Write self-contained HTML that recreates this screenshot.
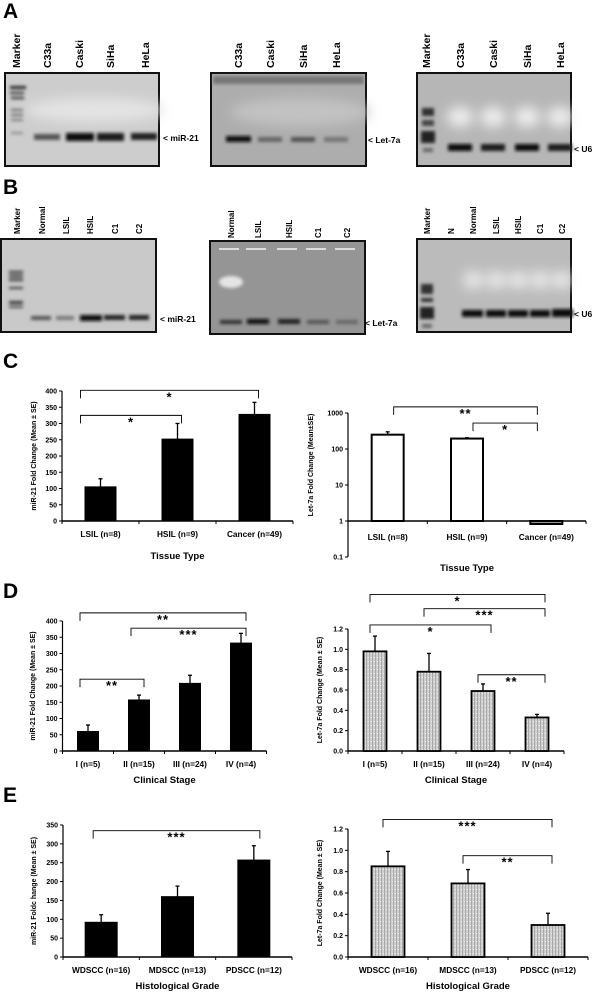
<!DOCTYPE html>
<html><head><meta charset="utf-8"><style>
html,body{margin:0;padding:0;background:#fff;}
svg{display:block;font-family:"Liberation Sans",sans-serif;}
.lbl{font-weight:bold;font-size:10.5px;fill:#000;}
.lblb{font-weight:bold;font-size:8px;fill:#000;}
.tk{font-weight:bold;font-size:7px;fill:#000;}
.cat{font-weight:bold;font-size:8.3px;fill:#000;}
.ttl{font-weight:bold;font-size:9.5px;fill:#000;}
.yt{font-weight:bold;font-size:7px;fill:#000;}
.pn{font-weight:bold;font-size:21px;fill:#000;}
.bl{font-weight:bold;font-size:8.5px;fill:#000;}
</style></head><body>
<svg id="fig" width="601" height="992" viewBox="0 0 601 992" xmlns="http://www.w3.org/2000/svg">
<defs>
<filter id="bl2" x="-50%" y="-200%" width="200%" height="500%"><feGaussianBlur stdDeviation="1.6"/></filter>
<filter id="bl6" x="-50%" y="-100%" width="200%" height="300%"><feGaussianBlur stdDeviation="6"/></filter>
<pattern id="stripe" width="3" height="4" patternUnits="userSpaceOnUse">
<rect width="3" height="4" fill="#cfcfcf"/><rect width="1" height="4" fill="#a8a8a8"/><rect x="2" y="1" width="1" height="1" fill="#f2f2f2"/>
</pattern>
</defs>

<text class="pn" x="3" y="18">A</text>
<text class="pn" x="3" y="194">B</text>
<text class="pn" x="3" y="368">C</text>
<text class="pn" x="3" y="598">D</text>
<text class="pn" x="3" y="802">E</text>

<g>
<rect x="5" y="73" width="154" height="93" fill="#cdcdcd" stroke="#111" stroke-width="2"/>
<ellipse cx="95" cy="110" rx="70" ry="12" fill="#e4e4e4" filter="url(#bl6)"/>
<g filter="url(#bl2)" fill="#222">
<rect x="10" y="86" width="16" height="3"/><rect x="10" y="92" width="14" height="2"/><rect x="11" y="97" width="13" height="2"/>
<rect x="11" y="109" width="12" height="2" fill="#666"/><rect x="11" y="114" width="12" height="2" fill="#666"/><rect x="11" y="119" width="12" height="2" fill="#777"/><rect x="11" y="132" width="12" height="2" fill="#888"/>
<rect x="34" y="134" width="26" height="6" fill="#555"/><rect x="66" y="133" width="28" height="8" fill="#111"/><rect x="97" y="133" width="27" height="8" fill="#1a1a1a"/><rect x="131" y="133" width="26" height="7" fill="#222"/>
</g>
<text class="lbl" transform="translate(20,68) rotate(-90)">Marker</text>
<text class="lbl" transform="translate(51,68) rotate(-90)">C33a</text>
<text class="lbl" transform="translate(83,68) rotate(-90)">Caski</text>
<text class="lbl" transform="translate(114,68) rotate(-90)">SiHa</text>
<text class="lbl" transform="translate(149,68) rotate(-90)">HeLa</text>
<text class="bl" x="163" y="141">&lt; miR-21</text>
</g>

<g>
<rect x="211" y="73" width="155" height="93" fill="#adadad" stroke="#111" stroke-width="2"/>
<rect x="213" y="76" width="151" height="8" fill="#777" filter="url(#bl2)"/>
<ellipse cx="300" cy="112" rx="70" ry="14" fill="#c2c2c2" filter="url(#bl6)"/>
<g filter="url(#bl2)">
<rect x="226" y="136" width="25" height="6" fill="#111"/><rect x="258" y="137" width="24" height="5" fill="#666"/><rect x="291" y="137" width="24" height="5" fill="#555"/><rect x="324" y="137" width="24" height="5" fill="#777"/>
</g>
<text class="lbl" transform="translate(242,68) rotate(-90)">C33a</text>
<text class="lbl" transform="translate(274,68) rotate(-90)">Caski</text>
<text class="lbl" transform="translate(307,68) rotate(-90)">SiHa</text>
<text class="lbl" transform="translate(340,68) rotate(-90)">HeLa</text>
<text class="bl" x="368" y="143">&lt; Let-7a</text>
</g>

<g>
<rect x="417" y="73" width="154" height="93" fill="#b6b6b6" stroke="#111" stroke-width="2"/>
<g filter="url(#bl6)" fill="#efefef">
<ellipse cx="460" cy="117" rx="13" ry="10"/><ellipse cx="493" cy="117" rx="13" ry="10"/><ellipse cx="527" cy="117" rx="13" ry="10"/><ellipse cx="560" cy="117" rx="13" ry="10"/>
</g>
<g filter="url(#bl2)">
<rect x="422" y="108" width="12" height="8" fill="#333"/><rect x="422" y="120" width="12" height="6" fill="#444"/><rect x="421" y="131" width="14" height="12" fill="#222"/><rect x="423" y="148" width="10" height="4" fill="#666"/>
<rect x="448" y="144" width="24" height="7" fill="#111"/><rect x="481" y="144" width="24" height="7" fill="#1a1a1a"/><rect x="515" y="144" width="24" height="7" fill="#111"/><rect x="548" y="144" width="24" height="7" fill="#1a1a1a"/>
</g>
<text class="lbl" transform="translate(430,68) rotate(-90)">Marker</text>
<text class="lbl" transform="translate(464,68) rotate(-90)">C33a</text>
<text class="lbl" transform="translate(497,68) rotate(-90)">Caski</text>
<text class="lbl" transform="translate(531,68) rotate(-90)">SiHa</text>
<text class="lbl" transform="translate(564,68) rotate(-90)">HeLa</text>
<text class="bl" x="574" y="152">&lt; U6</text>
</g>

<g>
<rect x="1" y="239" width="155" height="93" fill="#c9c9c9" stroke="#111" stroke-width="2"/>
<g filter="url(#bl2)">
<rect x="9" y="271" width="14" height="2" fill="#222"/><rect x="9" y="275" width="14" height="2" fill="#222"/><rect x="9" y="279" width="14" height="2" fill="#222"/><rect x="9" y="287" width="14" height="2" fill="#333"/><rect x="9" y="301" width="14" height="3" fill="#333"/><rect x="9" y="306" width="14" height="2" fill="#444"/>
<rect x="31" y="316" width="20" height="4" fill="#555"/><rect x="56" y="316" width="18" height="4" fill="#777"/><rect x="80" y="315" width="22" height="6" fill="#111"/><rect x="104" y="315" width="21" height="5" fill="#222"/><rect x="129" y="315" width="20" height="5" fill="#222"/>
</g>
<text class="lblb" transform="translate(20,234) rotate(-90)">Marker</text>
<text class="lblb" transform="translate(45,234) rotate(-90)">Normal</text>
<text class="lblb" transform="translate(69,234) rotate(-90)">LSIL</text>
<text class="lblb" transform="translate(93,234) rotate(-90)">HSIL</text>
<text class="lblb" transform="translate(118,234) rotate(-90)">C1</text>
<text class="lblb" transform="translate(142,234) rotate(-90)">C2</text>
<text class="bl" x="160" y="322">&lt; miR-21</text>
</g>

<g>
<rect x="210" y="241" width="155" height="93" fill="#959595" stroke="#111" stroke-width="2"/>
<g fill="#ddd"><rect x="219" y="248" width="20" height="2"/><rect x="246" y="248" width="20" height="2"/><rect x="277" y="248" width="20" height="2"/><rect x="306" y="248" width="20" height="2"/><rect x="335" y="248" width="20" height="2"/></g>
<ellipse cx="231" cy="282" rx="12" ry="6" fill="#e5e5e5" filter="url(#bl2)"/>
<g filter="url(#bl2)">
<rect x="220" y="320" width="22" height="4" fill="#333"/><rect x="247" y="319" width="22" height="5" fill="#111"/><rect x="278" y="319" width="22" height="5" fill="#222"/><rect x="307" y="320" width="22" height="4" fill="#555"/><rect x="336" y="320" width="22" height="4" fill="#666"/>
</g>
<text class="lblb" transform="translate(234,238) rotate(-90)">Normal</text>
<text class="lblb" transform="translate(261,238) rotate(-90)">LSIL</text>
<text class="lblb" transform="translate(292,238) rotate(-90)">HSIL</text>
<text class="lblb" transform="translate(321,238) rotate(-90)">C1</text>
<text class="lblb" transform="translate(350,238) rotate(-90)">C2</text>
<text class="bl" x="365" y="326">&lt; Let-7a</text>
</g>

<g>
<rect x="417" y="239" width="154" height="93" fill="#bbbbbb" stroke="#111" stroke-width="2"/>
<g filter="url(#bl6)" fill="#e8e8e8"><ellipse cx="473" cy="280" rx="10" ry="9"/><ellipse cx="496" cy="280" rx="10" ry="9"/><ellipse cx="518" cy="280" rx="10" ry="9"/><ellipse cx="540" cy="280" rx="10" ry="9"/><ellipse cx="562" cy="280" rx="10" ry="9"/></g>
<g filter="url(#bl2)">
<rect x="421" y="284" width="12" height="10" fill="#333"/><rect x="421" y="298" width="12" height="4" fill="#333"/><rect x="420" y="307" width="14" height="12" fill="#222"/><rect x="422" y="324" width="10" height="4" fill="#666"/>
<rect x="462" y="310" width="21" height="7" fill="#111"/><rect x="486" y="310" width="20" height="7" fill="#111"/><rect x="508" y="310" width="20" height="7" fill="#111"/><rect x="530" y="310" width="20" height="7" fill="#111"/><rect x="552" y="309" width="21" height="8" fill="#111"/>
</g>
<text class="lblb" transform="translate(430,234) rotate(-90)">Marker</text>
<text class="lblb" transform="translate(454,234) rotate(-90)">N</text>
<text class="lblb" transform="translate(476,234) rotate(-90)">Normal</text>
<text class="lblb" transform="translate(499,234) rotate(-90)">LSIL</text>
<text class="lblb" transform="translate(521,234) rotate(-90)">HSIL</text>
<text class="lblb" transform="translate(543,234) rotate(-90)">C1</text>
<text class="lblb" transform="translate(565,234) rotate(-90)">C2</text>
<text class="bl" x="574" y="317">&lt; U6</text>
</g>
</svg>
<script>
const NS="http://www.w3.org/2000/svg";
const svg=document.getElementById("fig");

// ---- Chart data ----
const cCats=["LSIL (n=8)","HSIL (n=9)","Cancer (n=49)"];
const cMir=[105,252,328];
const cMirErr=[25,48,37];
const cMirTicks=[0,50,100,150,200,250,300,350,400];
const cLet=[250,195,0.9];
const cLetErr=[50,10,0];
const cLetTicks=[0.1,1,10,100,1000];
const dCats=["I (n=5)","II (n=15)","III (n=24)","IV (n=4)"];
const dMir=[60,157,208,332];
const dMirErr=[20,15,25,30];
const dMirTicks=[0,50,100,150,200,250,300,350,400];
const dLet=[0.98,0.78,0.59,0.33];
const dLetErr=[0.15,0.18,0.07,0.03];
const dLetTicks=[0,0.2,0.4,0.6,0.8,1.0,1.2];
const eCats=["WDSCC (n=16)","MDSCC (n=13)","PDSCC (n=12)"];
const eMir=[92,160,257];
const eMirErr=[20,28,38];
const eMirTicks=[0,50,100,150,200,250,300,350];
const eLet=[0.85,0.69,0.30];
const eLetErr=[0.14,0.13,0.11];
const eLetTicks=[0,0.2,0.4,0.6,0.8,1.0,1.2];
// significance brackets: [from, to, level(data units), label]
const cMirSig=[[0,2,402,"*"],[0,1,325,"*"]];
const cLetSig=[[0,2,1480,"**"],[1,2,525,"*"]];
const dMirSig=[[0,3,425,"**"],[1,3,378,"***"],[0,1,221,"**"]];
const dLetSig=[[0,3,1.54,"*"],[1,3,1.40,"***"],[0,2,1.24,"*"],[2,3,0.75,"**"]];
const eMirSig=[[0,2,335,"***"]];
const eLetSig=[[0,2,1.29,"***"],[1,2,0.95,"**"]];

function mk(tag,attrs,parent){const e=document.createElementNS(NS,tag);for(const k in attrs)e.setAttribute(k,attrs[k]);(parent||svg).appendChild(e);return e;}

function chart(o){
  const g=mk("g",{});
  
  
  const n=o.cats.length, band=(o.xR-o.xL)/n;
  const cx=i=>o.xL+band*(i+0.5);
  const y=v=>o.log? o.base - Math.log10(v)*o.k : o.base - v*o.k;
  const yTop=y(o.ticks[o.ticks.length-1]);
  const yBot=y(o.ticks[0]);
  const axBase=o.log? y(1): yBot;
  const ya=mk("line",{x1:o.xL,y1:yTop,x2:o.xL,y2:yBot,stroke:"#000","stroke-width":1.2},g);
  
  
  o.ticks.forEach(t=>{
    mk("line",{x1:o.xL-3,y1:y(t),x2:o.xL,y2:y(t),stroke:"#000","stroke-width":1},g);
    const tl=mk("text",{x:o.xL-5,y:y(t)+2.5,"text-anchor":"end",class:"tk"},g);
    tl.textContent=o.fmt?o.fmt(t):String(t);
    
    
  });
  const xa=mk("line",{x1:o.xL,y1:axBase,x2:o.xR,y2:axBase,stroke:"#000","stroke-width":1.6},g);
  
  
  for(let i=0;i<=n;i++) mk("line",{x1:o.xL+band*i,y1:axBase,x2:o.xL+band*i,y2:axBase+3,stroke:"#000","stroke-width":1},g);
  o.vals.forEach((v,i)=>{
    const yt=y(v), x=cx(i)-o.bw/2;
    const below=yt>axBase;
    const r=mk("rect",{x:x,y:Math.min(yt,axBase),width:o.bw,height:Math.max(3,Math.abs(axBase-yt)),fill:below?"#999":o.fill,stroke:"#000","stroke-width":o.sw},g);
    
    
    if(o.errs[i]>0){
      const ye=y(v+o.errs[i]);
      mk("line",{x1:cx(i),y1:yt,x2:cx(i),y2:ye,stroke:"#000","stroke-width":1.3},g);
      mk("line",{x1:cx(i)-2,y1:ye,x2:cx(i)+2,y2:ye,stroke:"#000","stroke-width":1.3},g);
    }
    const cl=mk("text",{x:cx(i),y:o.catY,"text-anchor":"middle",class:"cat"},g);
    cl.textContent=o.cats[i];
    
    
  });
  o.sig.forEach(s=>{
    const by=y(s[2]), x1=cx(s[0])+o.bo[0], x2=cx(s[1])+o.bo[1];
    const p=mk("path",{d:`M${x1},${by+8}V${by}H${x2}V${by+8}`,fill:"none",stroke:"#000","stroke-width":0.9},g);
    
    
    const st=mk("text",{x:(x1+x2)/2,y:by+11,"text-anchor":"middle","font-size":"13px","font-weight":"bold","letter-spacing":"1px"},g);
    st.textContent=s[3];
    
    
  });
  const xt=mk("text",{x:(o.xL+o.xR)/2,y:o.ttlY,"text-anchor":"middle",class:"ttl","font-size":o.ttlSize||"9.5px"},g);
  xt.textContent=o.xTitle;
  
  
  const ytl=mk("text",{transform:`translate(${o.yTitleX},${o.yTitleY}) rotate(-90)`,"text-anchor":"middle",class:"yt"},g);
  ytl.textContent=o.yTitle;
  
  
}
const f1=t=>t.toFixed(1);
chart({name:"chart-c-mir21",cats:cCats,vals:cMir,errs:cMirErr,ticks:cMirTicks,xL:62,xR:293,base:521,k:130/400,bw:31,fill:"#000",sw:1,catY:537,ttlY:559,xTitle:"Tissue Type",yTitle:"miR-21 Fold Change (Mean ± SE)",yTitleX:36,yTitleY:456,sig:cMirSig,bo:[-20,4]});
chart({name:"chart-c-let7a",log:true,cats:cCats,vals:cLet,errs:cLetErr,ticks:cLetTicks,fmt:t=>String(t),xL:348,xR:586,base:521,k:36,bw:32,fill:"#fff",sw:2,catY:540,ttlY:571,ttlSize:"11px",xTitle:"Tissue Type",yTitle:"Let-7a Fold Change (Mean±SE)",yTitleX:313,yTitleY:465,sig:cLetSig,bo:[6,-9]});
chart({name:"chart-d-mir21",cats:dCats,vals:dMir,errs:dMirErr,ticks:dMirTicks,xL:62.5,xR:266.5,base:751,k:130/400,bw:21,fill:"#000",sw:1,catY:767,ttlY:783,xTitle:"Clinical Stage",yTitle:"miR-21 Fold Change (Mean ± SE)",yTitleX:35,yTitleY:686,sig:dMirSig,bo:[-8,5]});
chart({name:"chart-d-let7a",cats:dCats,vals:dLet,errs:dLetErr,ticks:dLetTicks,fmt:f1,xL:348,xR:564,base:751,k:122/1.2,bw:23,fill:"url(#stripe)",sw:1.8,catY:767,ttlY:783,xTitle:"Clinical Stage",yTitle:"Let-7a Fold Change (Mean ± SE)",yTitleX:322,yTitleY:690,sig:dLetSig,bo:[-5,8]});
chart({name:"chart-e-mir21",cats:eCats,vals:eMir,errs:eMirErr,ticks:eMirTicks,xL:63,xR:292,base:957,k:132/350,bw:32,fill:"#000",sw:1,catY:973,ttlY:989,xTitle:"Histological Grade",yTitle:"miR-21 Foldc hange (Mean ± SE)",yTitleX:36,yTitleY:891,sig:eMirSig,bo:[-8,6]});
chart({name:"chart-e-let7a",cats:eCats,vals:eLet,errs:eLetErr,ticks:eLetTicks,fmt:f1,xL:348,xR:588,base:957,k:128/1.2,bw:33,fill:"url(#stripe)",sw:1.8,catY:973,ttlY:989,xTitle:"Histological Grade",yTitle:"Let-7a Fold Change (Mean ± SE)",yTitleX:322,yTitleY:893,sig:eLetSig,bo:[-5,4]});
</script>
</body></html>
